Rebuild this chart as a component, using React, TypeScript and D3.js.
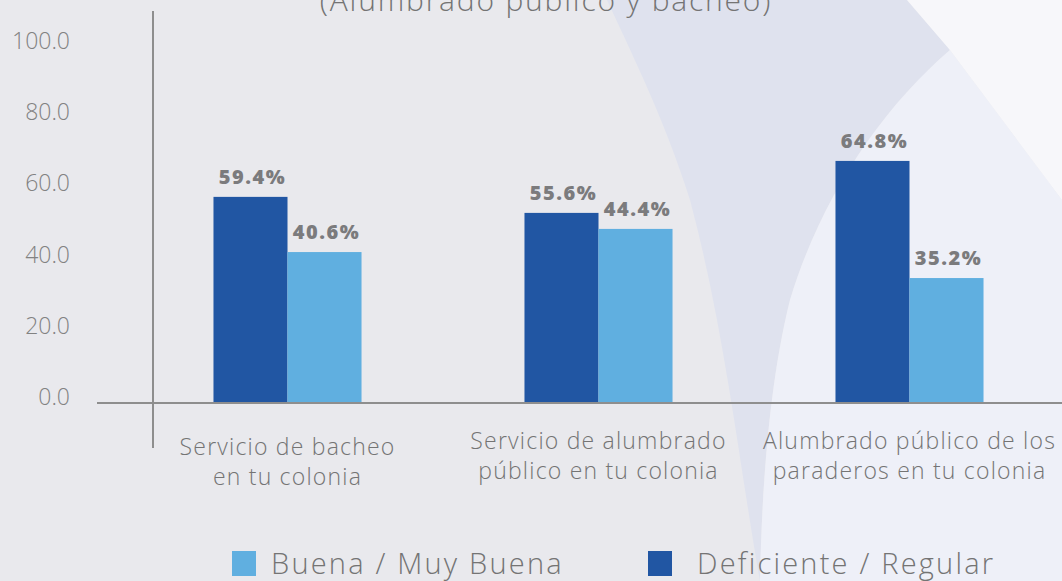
import React from 'react';
import * as d3 from 'd3';

// categorias (dos lineas cada una)
const categories = ['bacheo', 'alumbrado', 'paraderos'];
const categoryLines = [
  ['Servicio de bacheo', 'en tu colonia'],
  ['Servicio de alumbrado', 'público en tu colonia'],
  ['Alumbrado público de los', 'paraderos en tu colonia']
];
const series = ['Deficiente / Regular', 'Buena / Muy Buena'];
// alturas de barra
const deficienteValues = [57.9, 53.4, 68.0];
const buenaValues = [42.4, 48.9, 35.1];
// etiquetas impresas sobre las barras
const deficienteLabels = ['59.4%', '55.6%', '64.8%'];
const buenaLabels = ['40.6%', '44.4%', '35.2%'];
const yTicks = [0, 20, 40, 60, 80, 100];
const legendOrder = ['Buena / Muy Buena', 'Deficiente / Regular'];

const WIDTH = 1062;
const HEIGHT = 581;
const DARK = '#2156a3';
const LIGHT = '#60afe0';
const AXIS = '#8e8e8e';
const TEXT = '#747474';
const FONT = '"Open Sans", "Noto Sans", sans-serif';

export default function App() {
  const x0 = d3.scaleBand().domain(categories).range([132, 1065]).paddingInner(0.524).paddingOuter(0.262);
  const x1 = d3.scaleBand().domain(series).range([0, x0.bandwidth()]);
  const y = d3.scaleLinear().domain([0, 100]).range([403, 47]);

  const colorOf = (s: string) => (s === series[0] ? DARK : LIGHT);
  const valuesOf = (s: string) => (s === series[0] ? deficienteValues : buenaValues);
  const labelsOf = (s: string) => (s === series[0] ? deficienteLabels : buenaLabels);

  return (
    <svg width={WIDTH} height={HEIGHT} style={{ position: 'fixed', left: 0, top: 0 }}>
      {/* fondo */}
      <rect width={WIDTH} height={HEIGHT} fill="#e9e9ed" />
      <path d="M607,0 L907,0 L950,50 C880,110 820,200 790,300 C770,380 762,480 760,581 L760,581 C740,470 725,330 690,200 C665,120 630,50 607,0 Z" fill="#dfe2ee" />
      <path d="M950,50 L1062,200 L1062,581 L760,581 C762,480 770,380 790,300 C820,200 880,110 950,50 Z" fill="#eef0f8" />
      <path d="M907,0 L1062,0 L1062,200 L950,50 Z" fill="#f7f7fa" />

      {/* titulo */}
      <text x={546} y={11} textAnchor="middle" fontFamily={FONT} fontWeight={300} fontSize={30} letterSpacing={1.8} fill={TEXT}>
        (Alumbrado público y bacheo)
      </text>

      {/* eje y */}
      {yTicks.map(t => (
        <text key={t} x={70} y={y(t) - 6} dy="0.35em" textAnchor="end" fontFamily={FONT} fontWeight={300} fontSize={23} fill="#828282">
          {t.toFixed(1)}
        </text>
      ))}

      {/* barras */}
      {categories.map((c, i) => (
        <g key={c} transform={`translate(${x0(c)},0)`}>
          {series.map(s => {
            const v = valuesOf(s)[i];
            const bx = x1(s) || 0;
            return (
              <g key={s}>
                <rect x={bx} y={y(v)} width={x1.bandwidth()} height={y(0) - y(v)} fill={colorOf(s)} />
                <text
                  x={bx + x1.bandwidth() / 2 + 2}
                  y={y(v) - 13}
                  textAnchor="middle"
                  fontFamily={FONT}
                  fontWeight={800}
                  fontSize={20}
                  letterSpacing={1.5}
                  fill="#7b7b7d"
                >
                  {labelsOf(s)[i]}
                </text>
              </g>
            );
          })}
          {categoryLines[i].map((line, j) => (
            <text
              key={j}
              x={x0.bandwidth() / 2}
              y={449 + j * 30 + (i === 0 ? 6 : 0)}
              textAnchor="middle"
              fontFamily={FONT}
              fontWeight={300}
              fontSize={23}
              letterSpacing={1.2}
              fill={TEXT}
            >
              {line}
            </text>
          ))}
        </g>
      ))}

      {/* ejes */}
      <line x1={97} x2={WIDTH} y1={y(0)} y2={y(0)} stroke={AXIS} strokeWidth={2} />
      <line x1={153} x2={153} y1={11} y2={448} stroke={AXIS} strokeWidth={2} />

      {/* leyenda */}
      {legendOrder.map((s, i) => {
        const lx = i === 0 ? 232 : 648;
        const tx = i === 0 ? 39 : 49;
        return (
          <g key={s} transform={`translate(${lx},551)`}>
            <rect width={24} height={25} fill={colorOf(s)} />
            <text x={tx} y={12.5} dy="0.35em" fontFamily={FONT} fontWeight={300} fontSize={29} letterSpacing={2.2} fill={TEXT}>
              {s}
            </text>
          </g>
        );
      })}
    </svg>
  );
}
